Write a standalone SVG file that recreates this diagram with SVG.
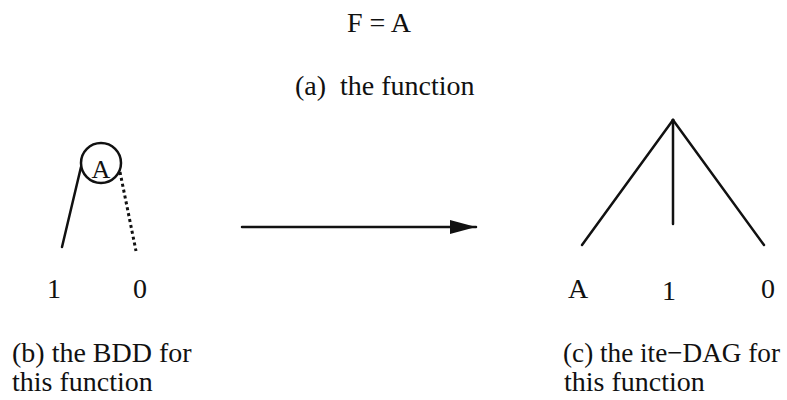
<svg xmlns="http://www.w3.org/2000/svg" width="787" height="400" viewBox="0 0 787 400">
<style>
text{font-family:"Liberation Serif","Times New Roman",serif;font-size:28px;fill:#111}
.ln{stroke:#111;stroke-width:2.5;fill:none;stroke-linecap:round}
.dot{stroke:#111;stroke-width:3;fill:none;stroke-dasharray:3 3}
</style>
<defs>
<marker id="ah2" markerWidth="26" markerHeight="14" refX="26" refY="7" orient="auto" markerUnits="userSpaceOnUse">
<path d="M0,0 L26,7 L0,14 Z" fill="#111"/>
</marker>
</defs>
<g id="title"><text x="347" y="32">F = A</text></g>
<g id="caption-a"><text x="295" y="95" xml:space="preserve">(a)  the function</text></g>
<g id="bdd-node-A">
<circle cx="101" cy="163" r="20" fill="none" stroke="#111" stroke-width="2.5"/>
<text x="101" y="178" text-anchor="middle" style="font-size:26px">A</text>
</g>
<g id="bdd-terminal-1"><text x="54" y="298" text-anchor="middle">1</text></g>
<g id="bdd-terminal-0"><text x="140" y="298" text-anchor="middle">0</text></g>
<g id="caption-b"><text x="12" y="362">(b) the BDD for</text><text x="12" y="391">this function</text></g>
<g id="dag-root"><circle cx="673" cy="120" r="1.5" fill="#111"/></g>
<g id="dag-leaf-A"><text x="578" y="298" text-anchor="middle">A</text></g>
<g id="dag-leaf-1"><text x="669" y="300" text-anchor="middle">1</text></g>
<g id="dag-leaf-0"><text x="768" y="298" text-anchor="middle">0</text></g>
<g id="caption-c"><text x="563" y="362" textLength="217" lengthAdjust="spacingAndGlyphs">(c) the ite−DAG for</text><text x="564" y="391">this function</text></g>
<g id="connectors">
<line class="ln" x1="81" y1="167" x2="62" y2="247"/>
<line class="dot" x1="120" y1="172" x2="136" y2="251"/>
<line class="ln" x1="242" y1="227" x2="476" y2="227" marker-end="url(#ah2)"/>
<line class="ln" x1="673" y1="120" x2="582" y2="245"/>
<line class="ln" x1="673" y1="120" x2="673" y2="224"/>
<line class="ln" x1="673" y1="120" x2="764" y2="245"/>
</g>
</svg>
